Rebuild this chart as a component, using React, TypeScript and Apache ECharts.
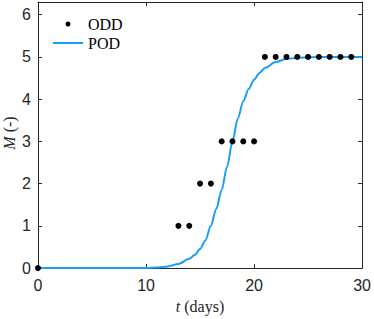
import React, { useEffect, useRef } from "react";
import * as echarts from "echarts";

// Observed data (ODD)
const oddDays = [0, 13, 14, 15, 16, 17, 18, 19, 20, 21, 22, 23, 24, 25, 26, 27, 28, 29];
const oddValues = [0, 1, 1, 2, 2, 3, 3, 3, 3, 5, 5, 5, 5, 5, 5, 5, 5, 5];

// Predicted curve (POD)
const podDays = [0, 5, 10, 11, 12, 13, 14, 14.5, 15, 15.5, 16, 16.5, 17, 17.5, 18, 18.5, 19, 19.5, 20, 20.5, 21, 22, 23, 24, 26, 30];
const podValues = [0, 0, 0.005, 0.015, 0.04, 0.1, 0.22, 0.31, 0.45, 0.66, 1.0, 1.4, 1.85, 2.4, 3.0, 3.55, 3.95, 4.24, 4.46, 4.62, 4.74, 4.88, 4.95, 4.98, 5, 5];

const xTicks = { min: 0, max: 30, interval: 10 };
const yTicks = { min: 0, max: 6.3, interval: 1 };

const AXIS_COLOR = "#262626";
const LINE_COLOR = "#1a9ef5";
const SANS = "Liberation Sans, Arial, Helvetica, sans-serif";
const SERIF = "Liberation Serif, Times New Roman, serif";

export default function App() {
  const ref = useRef<HTMLDivElement>(null);
  useEffect(() => {
    if (!ref.current) return;
    const chart = echarts.init(ref.current, undefined, { renderer: "svg" });
    const axisLine = { show: true, onZero: false, lineStyle: { color: AXIS_COLOR, width: 1 } };
    const axisTick = { show: true, inside: true, length: 4, lineStyle: { color: AXIS_COLOR, width: 1 } };
    chart.setOption({
      animation: false,
      backgroundColor: "#ffffff",
      grid: { left: 38, right: 8, top: 2, bottom: 45.5, containLabel: false },
      legend: {
        orient: "vertical",
        left: 52,
        top: 16,
        padding: 0,
        itemWidth: 30,
        itemHeight: 5,
        itemGap: 3,
        data: ["ODD", { name: "POD", itemStyle: { opacity: 0 } }],
        textStyle: { fontFamily: SERIF, fontSize: 16, color: "#000", lineHeight: 15 },
      },
      xAxis: [
        {
          type: "value",
          ...xTicks,
          position: "bottom",
          axisLine,
          axisTick,
          splitLine: { show: false },
          axisLabel: { show: true, margin: 9, fontFamily: SANS, fontSize: 16, color: AXIS_COLOR },
          name: "{i|t} (days)",
          nameLocation: "middle",
          nameGap: 27,
          nameTextStyle: {
            fontFamily: SERIF,
            fontSize: 16,
            color: AXIS_COLOR,
            rich: { i: { fontFamily: SERIF, fontStyle: "italic", fontSize: 16, color: AXIS_COLOR } },
          },
        },
        {
          type: "value",
          ...xTicks,
          position: "top",
          axisLine,
          axisTick,
          splitLine: { show: false },
          axisLabel: { show: false },
        },
      ],
      yAxis: [
        {
          type: "value",
          ...yTicks,
          position: "left",
          axisLine,
          axisTick,
          splitLine: { show: false },
          axisLabel: { show: true, showMaxLabel: false, margin: 7, fontFamily: SANS, fontSize: 16, color: AXIS_COLOR },
        },
        {
          type: "value",
          ...yTicks,
          position: "right",
          axisLine,
          axisTick,
          splitLine: { show: false },
          axisLabel: { show: false },
        },
      ],
      graphic: [
        {
          type: "text",
          x: 9,
          y: 133,
          rotation: Math.PI / 2,
          style: {
            text: "{i|M} (-)",
            fontFamily: SERIF,
            fontSize: 16,
            fill: AXIS_COLOR,
            align: "center",
            verticalAlign: "middle",
            rich: { i: { fontFamily: SERIF, fontStyle: "italic", fontSize: 16, fill: AXIS_COLOR } },
          },
        },
      ],
      series: [
        {
          name: "POD",
          type: "line",
          data: podDays.map((d, i) => [d, podValues[i]]),
          symbol: "none",
          smooth: 0.3,
          smoothMonotone: "x",
          lineStyle: { color: LINE_COLOR, width: 2 },
          itemStyle: { color: LINE_COLOR },
          z: 2,
        },
        {
          name: "ODD",
          type: "scatter",
          data: oddDays.map((d, i) => [d, oddValues[i]]),
          symbol: "circle",
          symbolSize: 6,
          itemStyle: { color: "#000", opacity: 1 },
          clip: false,
          z: 3,
        },
      ],
    });
    return () => chart.dispose();
  }, []);
  return (
    <div
      ref={ref}
      style={{ position: "fixed", left: 0, top: 0, width: 374, height: 319, background: "#fff" }}
    />
  );
}
